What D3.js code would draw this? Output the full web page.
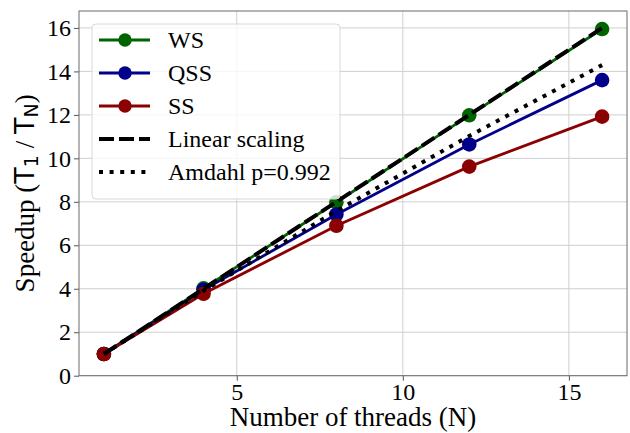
<!DOCTYPE html>
<html>
<head>
<meta charset="utf-8">
<script src="https://cdn.jsdelivr.net/npm/d3@7"></script>
<style>
  body { margin: 0; background: #fff; }
</style>
</head>
<body>
<svg id="chart" width="630" height="433" font-family="'Liberation Serif', 'Times New Roman', serif"></svg>
<script>
// values
threads = [1, 4, 8, 12, 16]
wsSpeedup = [1.0, 4.02, 7.98, 11.98, 15.95]
qssSpeedup = [1.0, 3.95, 7.42, 10.64, 13.6]
ssSpeedup = [1.0, 3.77, 6.9, 9.62, 11.92]
linearSpeedup = [1, 4, 8, 12, 16]
amdahlSpeedup = [1.0, 3.91, 7.58, 11.03, 14.29]
xTicks = [5, 10, 15]
yTicks = [0, 2, 4, 6, 8, 10, 12, 14, 16]

const serif = "'Liberation Serif', 'Times New Roman', serif"
const sans = "'DejaVu Sans', sans-serif"

let svg = d3.select("#chart")
let margin = {left: 79, right: 3, top: 11, bottom: 57.3}
let width = 630 - margin.left - margin.right
let height = 433 - margin.top - margin.bottom

let x = d3.scaleLinear().domain([0.25, 16.75]).range([0, width])
let y = d3.scaleLinear().domain([0, 16.78]).range([height, 0])

let g = svg.append("g")
            .attr("transform", `translate(${margin.left}, ${margin.top})`)

// grid
g.selectAll(".xgrid").data(xTicks).enter().append("line")
    .attr("x1", d => x(d)).attr("x2", d => x(d))
    .attr("y1", 0).attr("y2", height)
    .style("stroke", "#cfcfcf").style("stroke-width", 1)
g.selectAll(".ygrid").data(yTicks).enter().append("line")
    .attr("x1", 0).attr("x2", width)
    .attr("y1", d => y(d)).attr("y2", d => y(d))
    .style("stroke", "#cfcfcf").style("stroke-width", 1)

// axes
let xAxis = g.append("g")
                .attr("transform", `translate(0, ${height})`)
                .call(d3.axisBottom(x).tickValues(xTicks).tickSize(5).tickPadding(3))
let yAxis = g.append("g")
                .call(d3.axisLeft(y).tickValues(yTicks).tickSize(5).tickPadding(3))

for (let ax of [xAxis, yAxis]) {
    ax.attr("font-family", serif).attr("font-size", 24)
    ax.select(".domain").remove()
    ax.selectAll(".tick line").style("stroke", "#555")
    ax.selectAll(".tick text").style("fill", "#000")
}
xAxis.selectAll(".tick text").attr("dy", "0.68em")

g.append("rect")
    .attr("width", width).attr("height", height)
    .style("fill", "none").style("stroke", "#6b6b6b").style("stroke-width", 1)

// series
let seriesData = [
    {"name": "WS", "values": wsSpeedup, "color": "#006400", "marker": true},
    {"name": "QSS", "values": qssSpeedup, "color": "#00008b", "marker": true},
    {"name": "SS", "values": ssSpeedup, "color": "#8b0000", "marker": true},
    {"name": "Linear scaling", "values": linearSpeedup, "color": "#000", "dash": "15,5", "lw": 4},
    {"name": "Amdahl p=0.992", "values": amdahlSpeedup, "color": "#000", "dash": "4,6.6", "lw": 4}
]

let line = d3.line()
    .x((d, i) => x(threads[i]))
    .y(d => y(d))

for (let s of seriesData) {
    g.append("path")
        .attr("d", line(s.values))
        .style("fill", "none")
        .style("stroke", s.color)
        .style("stroke-width", s.lw || 2.8)
        .style("stroke-dasharray", s.dash || null)

    if (s.marker) {
        g.selectAll(null).data(s.values).enter().append("circle")
            .attr("cx", (d, i) => x(threads[i]))
            .attr("cy", d => y(d))
            .attr("r", 7.3)
            .style("fill", s.color)
    }
}

// legend
let legend = g.append("g").attr("transform", "translate(13, 13)")
legend.append("rect")
    .attr("width", 248).attr("height", 175)
    .attr("rx", 4).attr("ry", 4)
    .style("fill", "white").style("fill-opacity", 0.8)
    .style("stroke", "#d8d8d8").style("stroke-width", 1)

seriesData.forEach((s, i) => {
    let row = legend.append("g").attr("transform", `translate(0, ${16 + i * 33})`)
    row.append("line")
        .attr("x1", 7).attr("x2", 58)
        .style("stroke", s.color)
        .style("stroke-width", s.lw || 2.8)
        .style("stroke-dasharray", s.dash || null)
    if (s.marker) {
        row.append("circle").attr("cx", 33).attr("r", 6.7).style("fill", s.color)
    }
    row.append("text")
        .attr("x", 76).attr("dy", "0.33em")
        .attr("font-family", serif)
        .attr("font-size", 24)
        .text(s.name)
})

// axis labels
svg.append("text")
    .attr("x", margin.left + width / 2).attr("y", 426)
    .attr("text-anchor", "middle")
    .attr("font-family", serif)
    .attr("font-size", 27)
    .text("Number of threads (N)")

let ylab = svg.append("text")
    .attr("transform", `translate(34, ${margin.top + height / 2}) rotate(-90)`)
    .attr("text-anchor", "middle")
    .attr("font-family", serif)
    .attr("font-size", 27)
ylab.append("tspan").text("Speedup (")
ylab.append("tspan").attr("font-family", sans).text("T")
ylab.append("tspan").attr("font-family", sans).attr("font-size", 19).attr("dy", 4).text("1")
ylab.append("tspan").attr("dy", -4).text(" / ")
ylab.append("tspan").attr("font-family", sans).text("T")
ylab.append("tspan").attr("font-family", sans).attr("font-size", 19).attr("dy", 4).text("N")
ylab.append("tspan").attr("dy", -4).text(")")
</script>
</body>
</html>
